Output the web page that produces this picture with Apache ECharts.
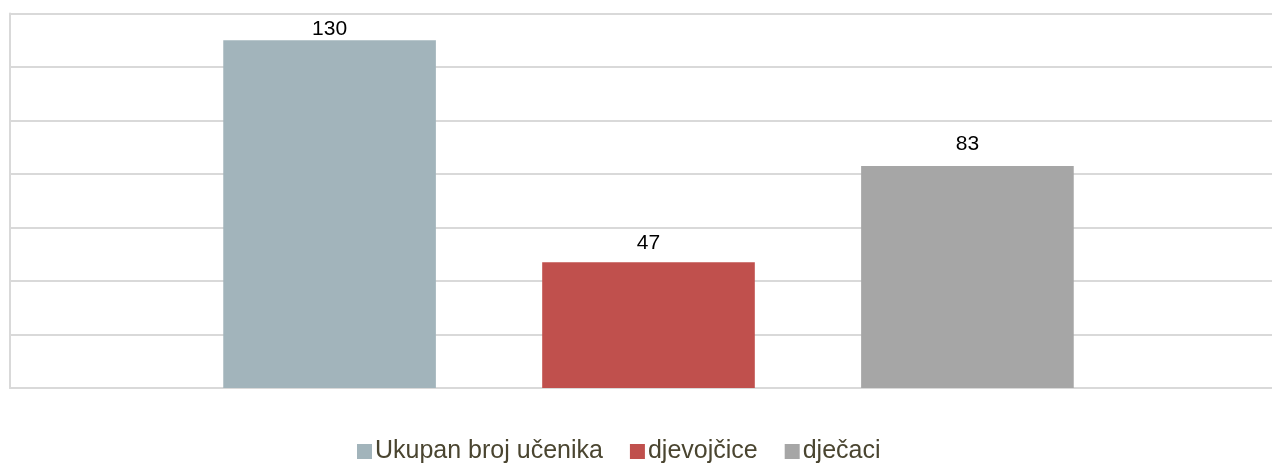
<!DOCTYPE html>
<html><head><meta charset="utf-8">
<script src="https://cdn.jsdelivr.net/npm/echarts@6/dist/echarts.min.js"></script>
<style>html,body{margin:0;padding:0;background:#fff}#c{width:1272px;height:464px}</style>
</head><body><div id="c"></div>
<script>
const categories = [''];
const seriesNames = ['Ukupan broj učenika', 'djevojčice', 'dječaci'];
const ukupno = [130];
const djevojcice = [47];
const djecaci = [83];
const yTicks = [0, 20, 40, 60, 80, 100, 120, 140];

const colors = ['#a2b4bb', '#c0504d', '#a6a6a6'];
const values = [ukupno, djevojcice, djecaci];
const labelDist = [1, 9, 11];

const chart = echarts.init(document.getElementById('c'));
chart.setOption({
  animation: false,
  grid: {left: 10, top: 13.5, right: -15, height: 374.5, containLabel: false, outerBoundsMode: 'none'},
  legend: {
    top: 434, left: 352, itemWidth: 15, itemHeight: 15, itemGap: 27,
    icon: 'rect',
    textStyle: {fontFamily: 'Liberation Sans, Arial', fontSize: 25, color: '#4a4530', padding: [0,0,0,-2]},
    data: seriesNames
  },
  xAxis: {
    type: 'category', data: categories,
    axisLine: {show: true, lineStyle: {color: '#d9d9d9', width: 2}},
    axisTick: {show: false}, axisLabel: {show: false}
  },
  yAxis: {
    type: 'value', min: yTicks[0], max: yTicks[yTicks.length-1], interval: yTicks[1]-yTicks[0],
    axisLine: {show: true, lineStyle: {color: '#d9d9d9', width: 2}},
    axisTick: {show: false}, axisLabel: {show: false},
    splitLine: {lineStyle: {color: '#d9d9d9', width: 2}}
  },
  series: seriesNames.map((n, i) => ({
    name: n, type: 'bar', data: values[i],
    barGap: '50%', barCategoryGap: '33.4%',
    itemStyle: {color: colors[i]},
    label: {show: true, position: 'top', distance: labelDist[i],
      fontFamily: 'Liberation Sans, Arial', fontSize: 21, color: '#000'}
  }))
});
</script></body></html>
